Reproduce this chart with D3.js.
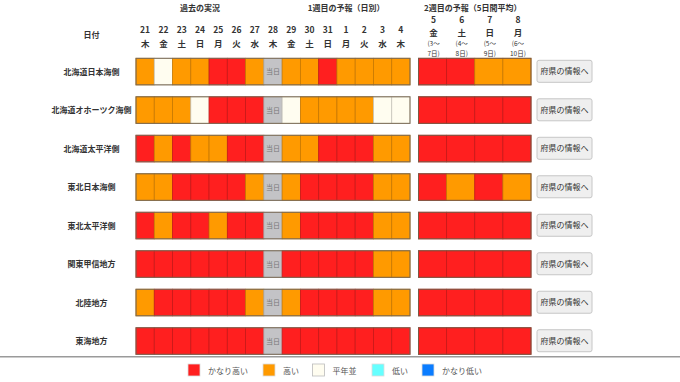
<!DOCTYPE html>
<html>
<head>
<meta charset="utf-8">
<script src="https://cdn.jsdelivr.net/npm/d3@7"></script>
<style>
  body { margin: 0; background: #fff; }
  svg { display: block; font-family: "Noto Sans CJK JP", sans-serif; }
</style>
</head>
<body>
<div id="chart"></div>
<script>
const width = 680;
const height = 382;

// data
const regions = ["北海道日本海側", "北海道オホーツク海側", "北海道太平洋側", "東北日本海側",
                 "東北太平洋側", "関東甲信地方", "北陸地方", "東海地方"];
const dayNums = ["21", "22", "23", "24", "25", "26", "27", "28", "29", "30", "31", "1", "2", "3", "4"];
const dayWeek = ["木", "金", "土", "日", "月", "火", "水", "木", "金", "土", "日", "月", "火", "水", "木"];
const todayIndex = 7;
const weekNums = ["5", "6", "7", "8"];
const weekDays = ["金", "土", "日", "月"];
const weekFrom = ["(3～", "(4～", "(5～", "(6～"];
const weekTo = ["7日)", "8日)", "9日)", "10日)"];
const levels = ["かなり高い", "高い", "平年並", "低い", "かなり低い"];
const levelColors = ["#ff1f1f", "#ff9a00", "#fffdf0", "#66ffff", "#0a7cff"];

// H = かなり高い, h = 高い, n = 平年並, T = 当日
const dailyRows = [
  "hnhhHHhThhHhhhh",
  "hhhnHHHTnhhhhnn",
  "HhHhhHHThhHHHhh",
  "hhHHHHhThHHHHhh",
  "HhHHhHHThHHHHhh",
  "HHHHHHHTHHHHHhh",
  "hHHHHHhThHHHHhh",
  "HHHHHHHTHHHHHHH"
];
const weeklyRows = ["HHhh", "HHHH", "HHHH", "HhHh", "HHHH", "HHHH", "HHHH", "HHHH"];
const codeLevel = { H: "かなり高い", h: "高い", n: "平年並" };

const svg = d3.select("#chart")
  .append("svg")
  .attr("width", width)
  .attr("height", height);

const x = d3.scaleBand()
  .domain(d3.range(dayNums.length))
  .range([136, 410]);
const xw = d3.scaleBand()
  .domain(d3.range(weekNums.length))
  .range([418.5, 531]);
const y = d3.scaleBand()
  .domain(regions)
  .range([58.3, 354.3])
  .paddingInner(0.31)
  .paddingOuter(0);
const color = d3.scaleOrdinal()
  .domain(levels)
  .range(levelColors);

// group titles
const titles = [
  { t: "過去の実況", cx: (x(0) + x(6) + x.bandwidth()) / 2 },
  { t: "1週目の予報（日別）", cx: (x(8) + x(14) + x.bandwidth()) / 2 },
  { t: "2週目の予報（5日間平均）", cx: (xw(0) + xw(3) + xw.bandwidth()) / 2 - 2 }
];
svg.selectAll("text.title")
  .data(titles)
  .enter()
  .append("text")
  .attr("class", "title")
  .attr("x", d => d.cx)
  .attr("y", 11)
  .attr("text-anchor", "middle")
  .style("font-size", "8px")
  .style("font-weight", "bold")
  .attr("fill", "#333")
  .text(d => d.t);

svg.append("text")
  .attr("x", 91.5)
  .attr("y", 38)
  .attr("text-anchor", "middle")
  .style("font-size", "8px")
  .style("font-weight", "bold")
  .attr("fill", "#333")
  .text("日付");

// daily column headers
const head = svg.append("g")
  .style("font-size", "8.5px")
  .style("font-weight", "bold")
  .attr("fill", "#333")
  .attr("text-anchor", "middle");
dayNums.forEach((n, i) => {
  const cx = x(i) + x.bandwidth() / 2;
  head.append("text").attr("x", cx).attr("y", 33).text(n);
  head.append("text").attr("x", cx).attr("y", 46.5).text(dayWeek[i]);
});
weekNums.forEach((n, i) => {
  const cx = xw(i) + xw.bandwidth() / 2 + 1;
  head.append("text").attr("x", cx).attr("y", 23).text(n);
  head.append("text").attr("x", cx).attr("y", 36).text(weekDays[i]);
  head.append("text").attr("x", cx).attr("y", 46).style("font-size", "6.5px").style("font-weight", "normal").text(weekFrom[i]);
  head.append("text").attr("x", cx).attr("y", 56).style("font-size", "6.5px").style("font-weight", "normal").text(weekTo[i]);
});

// rows
const rows = svg.selectAll("g.row")
  .data(regions)
  .enter()
  .append("g")
  .attr("class", "row")
  .attr("transform", d => `translate(0,${y(d)})`);

rows.append("text")
  .attr("x", 91.5)
  .attr("y", y.bandwidth() / 2 + 3)
  .attr("text-anchor", "middle")
  .style("font-size", "8px")
  .style("font-weight", "bold")
  .attr("fill", "#333")
  .text(d => d);

rows.each(function(region, r) {
  const g = d3.select(this);
  const cells = dailyRows[r].split("");
  g.selectAll("rect.day")
    .data(cells)
    .enter()
    .append("rect")
    .attr("class", "day")
    .attr("x", (d, i) => x(i))
    .attr("y", 0)
    .attr("width", x.bandwidth())
    .attr("height", y.bandwidth())
    .attr("fill", d => d === "T" ? "#c3c3c6" : color(codeLevel[d]))
    .attr("stroke", d => d === "T" ? "#aaa" : d3.color(color(codeLevel[d])).darker(0.7))
    .attr("stroke-width", 0.8);
  g.append("text")
    .attr("x", x(todayIndex) + x.bandwidth() / 2)
    .attr("y", y.bandwidth() / 2 + 2.5)
    .attr("text-anchor", "middle")
    .style("font-size", "7px")
    .attr("fill", "#777")
    .text("当日");

  const wcells = weeklyRows[r].split("");
  g.selectAll("rect.week")
    .data(wcells)
    .enter()
    .append("rect")
    .attr("class", "week")
    .attr("x", (d, i) => xw(i))
    .attr("y", 0)
    .attr("width", xw.bandwidth())
    .attr("height", y.bandwidth())
    .attr("fill", d => color(codeLevel[d]))
    .attr("stroke", d => d3.color(color(codeLevel[d])).darker(0.7))
    .attr("stroke-width", 0.8);

  // outer borders
  g.append("rect")
    .attr("x", x.range()[0])
    .attr("width", x.range()[1] - x.range()[0])
    .attr("height", y.bandwidth())
    .attr("fill", "none")
    .attr("stroke", "#7a6a55")
    .attr("stroke-width", 1);
  g.append("rect")
    .attr("x", xw.range()[0])
    .attr("width", xw.range()[1] - xw.range()[0])
    .attr("height", y.bandwidth())
    .attr("fill", "none")
    .attr("stroke", "#7a5a45")
    .attr("stroke-width", 1);

  // button
  g.append("rect")
    .attr("x", 537)
    .attr("y", 2)
    .attr("width", 55)
    .attr("height", 22)
    .attr("rx", 2)
    .attr("fill", "#efefef")
    .attr("stroke", "#c6c6c6");
  g.append("text")
    .attr("x", 564.5)
    .attr("y", 16)
    .attr("text-anchor", "middle")
    .style("font-size", "8px")
    .attr("fill", "#333")
    .text("府県の情報へ");
});

// separator
svg.append("line")
  .attr("x1", 0)
  .attr("x2", width)
  .attr("y1", 356.8)
  .attr("y2", 356.8)
  .attr("stroke", "#9a9a9a")
  .attr("stroke-width", 1.5);

// legend
const legendX = [188, 263, 312.5, 372, 422];
const legend = svg.selectAll("g.legend")
  .data(levels)
  .enter()
  .append("g")
  .attr("class", "legend")
  .attr("transform", (d, i) => `translate(${legendX[i]},364)`);
legend.append("rect")
  .attr("width", 12)
  .attr("height", 12)
  .attr("fill", d => color(d))
  .attr("stroke", d => d === "平年並" ? "#bbb" : "#ddd")
  .attr("stroke-width", 0.8);
legend.append("text")
  .attr("x", 20)
  .attr("y", 9.5)
  .style("font-size", "8px")
  .attr("fill", "#555")
  .text(d => d);
</script>
</body>
</html>
